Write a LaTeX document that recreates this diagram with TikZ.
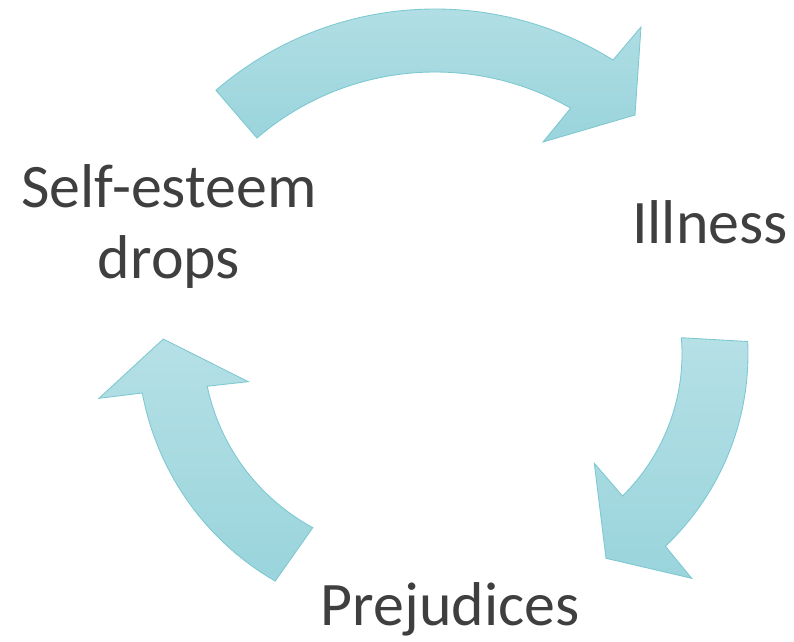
\documentclass[tikz,border=0pt]{standalone}
\usepackage{fontspec}
\setmainfont{Carlito}
\usetikzlibrary{calc}
\definecolor{arrowtop}{HTML}{B5E0E6}
\definecolor{arrowbot}{HTML}{9AD4DC}
\definecolor{arrowline}{HTML}{7CC8D1}
\definecolor{textgray}{HTML}{3F3F3F}
\tikzset{
	cyclearrow/.style={top color=arrowtop,bottom color=arrowbot,draw=arrowline,line width=0.6pt,line join=miter},
	cycletext/.style={text=textgray,font=\fontsize{44}{50}\selectfont,inner sep=0pt,anchor=base,align=center}
}
\begin{document}
\begin{tikzpicture}[x=0.025cm,y=0.025cm]
		\useasboundingbox (0,0) rectangle (794,641);
		% centres of the arcs
		\coordinate (T) at (435,296);
		\coordinate (R) at (483,287);
		\coordinate (L) at (412.7,298.1);
		% top arrow
		\draw[cyclearrow] ($(T)+(130.7:336)$) arc[start angle=130.7,end angle=58,radius=336] -- (641,614) -- (635,526) -- (543,499) -- ($(T)+(60.2:273)$) arc[start angle=60.2,end angle=130.7,radius=273] -- cycle;
		% right arrow
		\draw[cyclearrow] ($(R)+(2.7:265)$) arc[start angle=2.7,end angle=-46.5,radius=265] -- (691.7,62.7) -- (606,82.7) -- (594.3,177.7) -- ($(R)+(-45.5:199)$) arc[start angle=-45.5,end angle=4.7,radius=199] -- cycle;
		% left arrow
		\draw[cyclearrow] ($(L)+(240:275)$) arc[start angle=240,end angle=190.5,radius=275] -- (99,242.7) -- (163.3,302) -- (248.3,259.3) -- ($(L)+(191.9:210)$) arc[start angle=191.9,end angle=241.6,radius=210] -- cycle;
		\node[cycletext] (S) at (169,363) {Self-esteem\\drops};
		\node[cycletext] (I) at (710,398) {Illness};
		\node[cycletext] (P) at (450,16) {Prejudices};
	\end{tikzpicture}
\end{document}
